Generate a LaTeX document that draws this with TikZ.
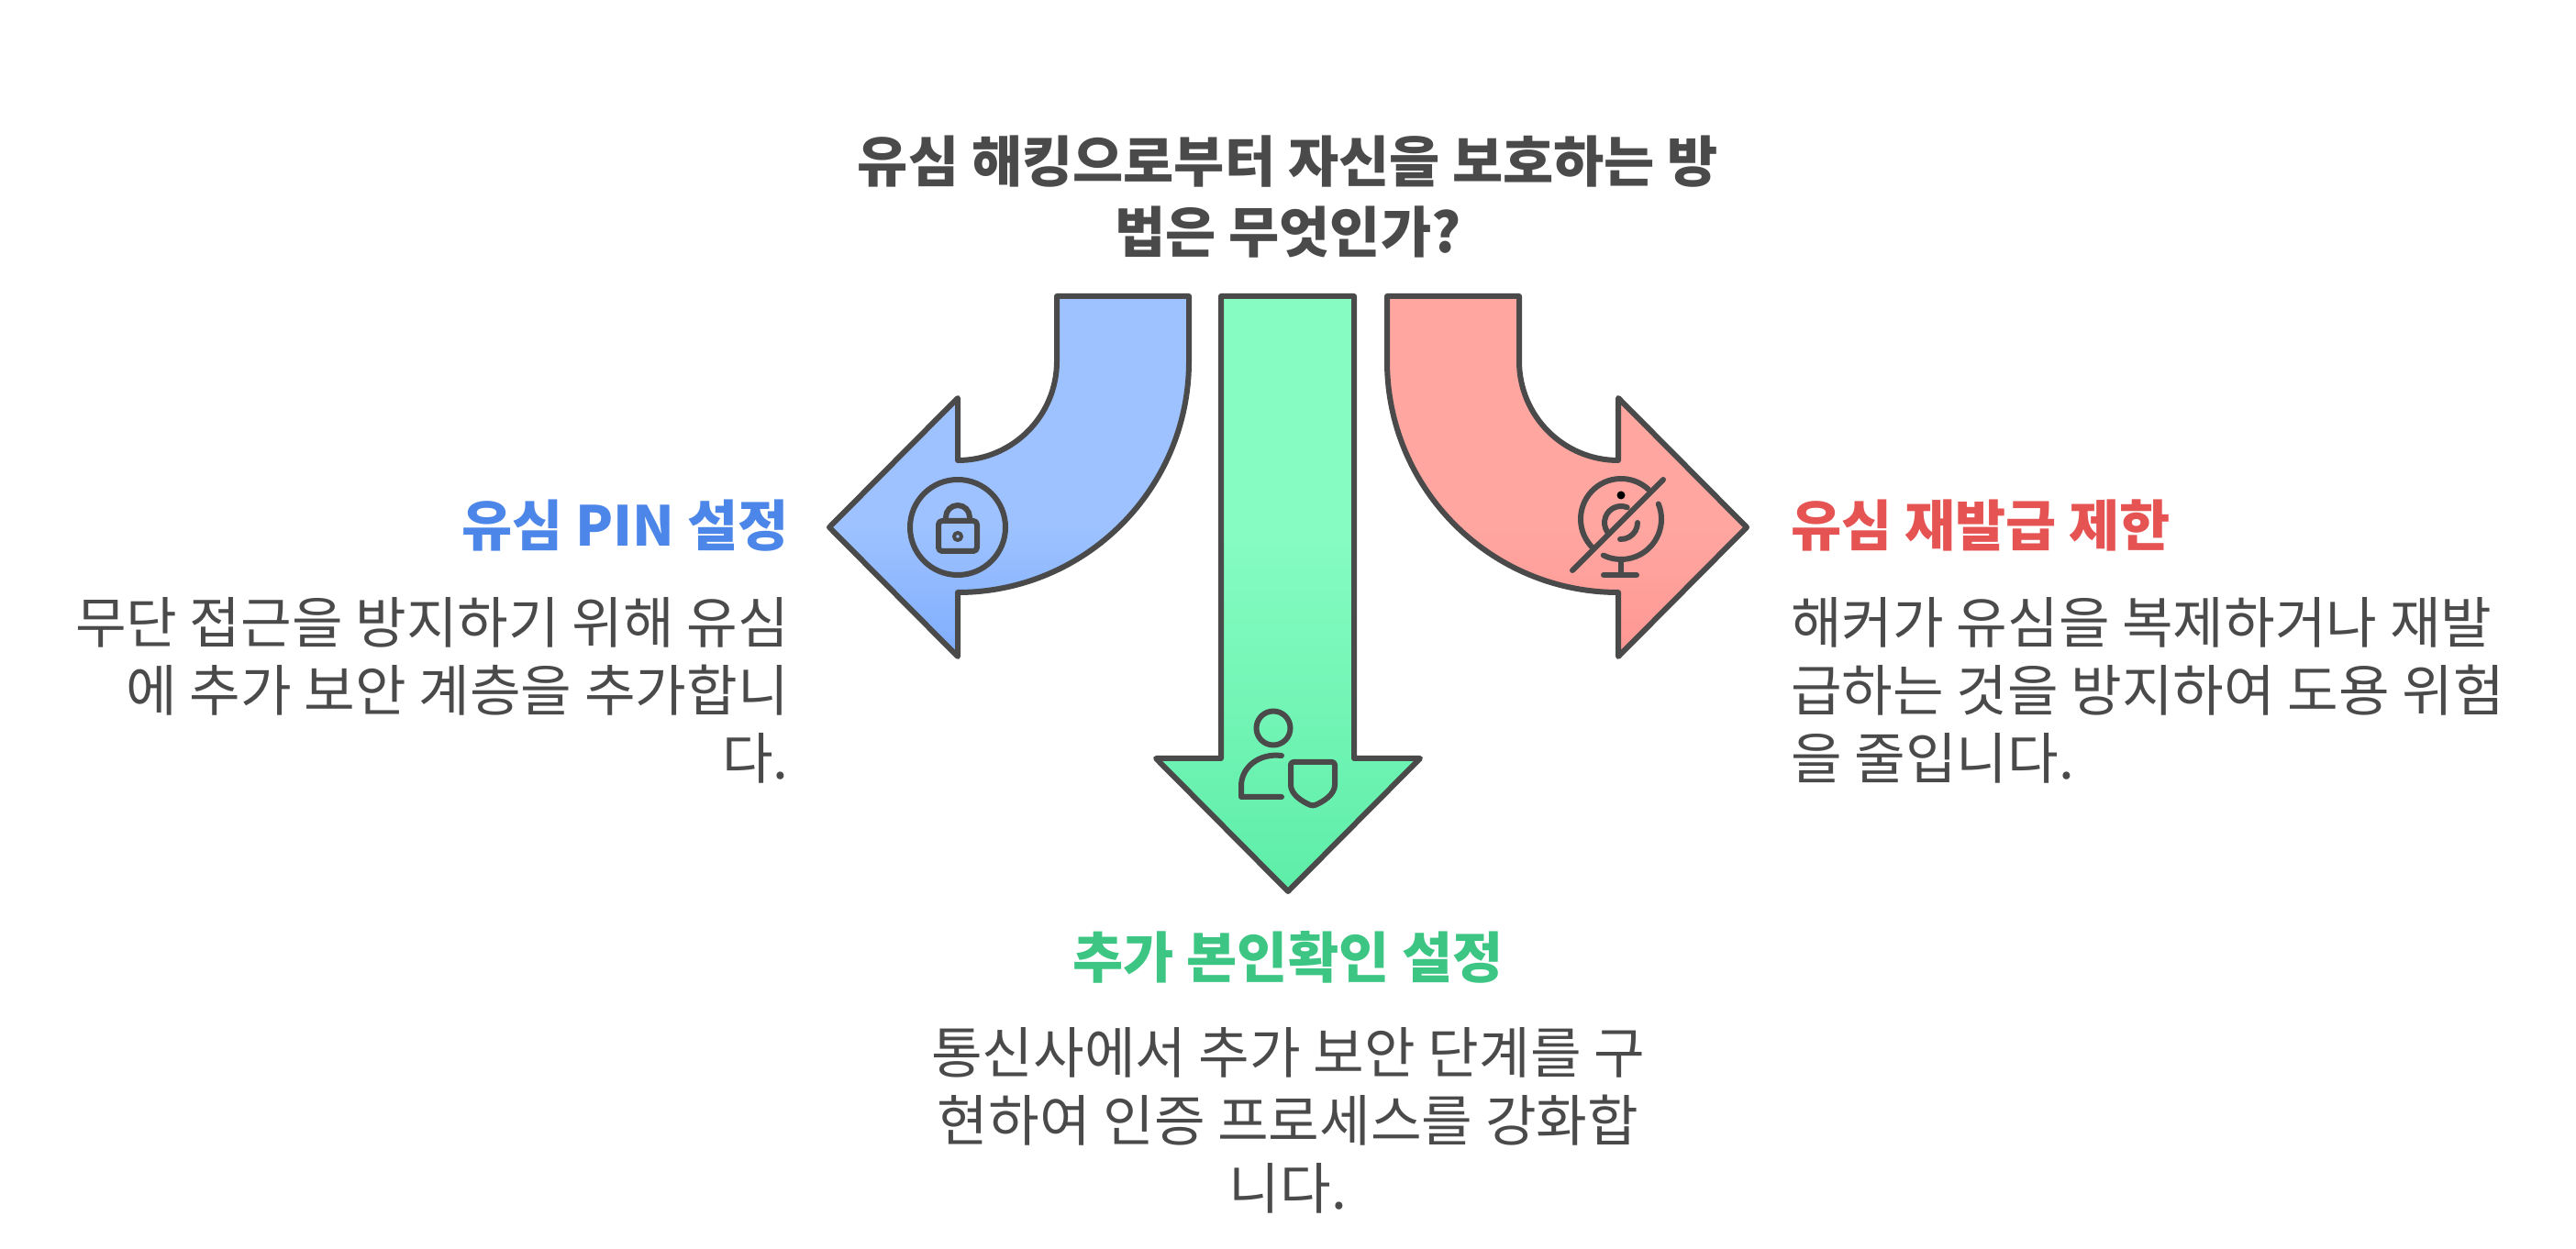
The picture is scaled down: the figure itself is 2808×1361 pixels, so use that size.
\documentclass[tikz,border=0pt]{standalone}
\usepackage{fontspec}
\setmainfont{Noto Sans CJK KR}
\usepackage{xcolor}
\usetikzlibrary{calc}
\definecolor{stroke}{HTML}{4A4A4A}
\definecolor{bluehi}{HTML}{9DC2FF}
\definecolor{bluelo}{HTML}{7FADFD}
\definecolor{greenhi}{HTML}{86FCC2}
\definecolor{greenlo}{HTML}{5EEDA9}
\definecolor{redhi}{HTML}{FFA6A1}
\definecolor{redlo}{HTML}{FF9792}
\definecolor{bluetxt}{HTML}{4C86E8}
\definecolor{greentxt}{HTML}{3CC583}
\definecolor{redtxt}{HTML}{E55353}
\pgfdeclareverticalshading{bluefade}{100bp}{color(0bp)=(bluelo); color(25bp)=(bluelo); color(43bp)=(bluehi); color(100bp)=(bluehi)}
\pgfdeclareverticalshading{greenfade}{100bp}{color(0bp)=(greenlo); color(25bp)=(greenlo); color(55bp)=(greenhi); color(100bp)=(greenhi)}
\pgfdeclareverticalshading{redfade}{100bp}{color(0bp)=(redlo); color(25bp)=(redlo); color(43bp)=(redhi); color(100bp)=(redhi)}
\tikzset{
  arrowbase/.style={draw=stroke, line width=6pt, line join=round, shade},
  icon/.style={draw=stroke, line width=6pt, line cap=round, line join=round},
  mainlab/.style={text=stroke, font=\fontsize{60}{77}\selectfont\bfseries, align=center},
  headlab/.style={inner sep=0pt, font=\fontsize{60}{75}\selectfont\bfseries},
  bodylab/.style={inner sep=0pt, text=stroke, font=\fontsize{60.5}{74.3}\selectfont},
}
\begin{document}
\begin{tikzpicture}[x=1pt,y=1pt]
  \useasboundingbox (0,0) rectangle (2808,1361);

  % question
  \node[mainlab] (question) at (1404,1146) {유심 해킹으로부터 자신을 보호하는 방\\법은 무엇인가?};

  % three arrows
  \draw[arrowbase, shading=bluefade] (1296,1038) -- (1296,967) arc (0:-90:252pt) -- (1044,645) -- (904,786)
    -- (1044,927) -- (1044,859) arc (-90:0:108pt) -- (1152,1038) -- cycle;
  \draw[arrowbase, shading=greenfade] (1331,1038) -- (1476,1038) -- (1476,534) -- (1548,534) -- (1404,389)
    -- (1260,534) -- (1331,534) -- cycle;
  \draw[arrowbase, shading=redfade] (1512,1038) -- (1512,967) arc (180:270:252pt) -- (1764,645) -- (1904,786)
    -- (1764,927) -- (1764,859) arc (270:180:108pt) -- (1656,1038) -- cycle;

  % lock
  \draw[icon] (1044,786) circle (52pt);
  \draw[icon, rounded corners=4pt] (1023,793) rectangle (1065,760);
  \draw[icon] (1031,793) -- (1031,797) arc (180:0:13pt) -- (1057,793);
  \draw[icon, line width=4pt] (1044,776) circle (4pt);

  % person and shield
  \draw[icon] (1388,567) circle (18.5pt);
  \draw[icon] (1397,537) .. controls (1372,540) and (1353,524) .. (1353,504) -- (1353,492) -- (1397,492);
  \draw[icon, rounded corners=3pt] (1407,530) -- (1455,530) -- (1455,508) .. controls (1455,495) and (1443,487) .. (1431,482)
    .. controls (1419,487) and (1407,495) .. (1407,508) -- cycle;

  % webcam, crossed out
  \coordinate (cam) at (1767,795);
  \coordinate (lens) at (1767,791);
  \draw[icon] ($(cam)+(22:44pt)$) arc (22:-116:44pt);
  \draw[icon] ($(cam)+(47:44pt)$) arc (47:226:44pt);
  \draw[icon] ($(lens)+(68:18pt)$) arc (68:215:18pt);
  \draw[icon] ($(lens)+(0:18pt)$) arc (0:-93:18pt);
  \fill[stroke] (1767,821) circle (4.5pt);
  \draw[icon] (1714,739) -- (1813,838);
  \draw[icon] (1767,748) -- (1767,734);
  \draw[icon] (1748,734) -- (1784,734);

  % left
  \node[headlab, text=bluetxt, anchor=east] (pinhead) at (860,788) {유심 PIN 설정};
  \node[bodylab, anchor=north east, align=right] (pinbody) at (860,710) {무단 접근을 방지하기 위해 유심\\에 추가 보안 계층을 추가합니\\다.};
  % middle
  \node[headlab, text=greentxt] (authhead) at (1404,317) {추가 본인확인 설정};
  \node[bodylab, anchor=north, align=center] (authbody) at (1404,241) {통신사에서 추가 보안 단계를 구\\현하여 인증 프로세스를 강화합\\니다.};
  % right
  \node[headlab, text=redtxt, anchor=west] (simhead) at (1952,788) {유심 재발급 제한};
  \node[bodylab, anchor=north west, align=left] (simbody) at (1952,710) {해커가 유심을 복제하거나 재발\\급하는 것을 방지하여 도용 위험\\을 줄입니다.};
\end{tikzpicture}
\end{document}
